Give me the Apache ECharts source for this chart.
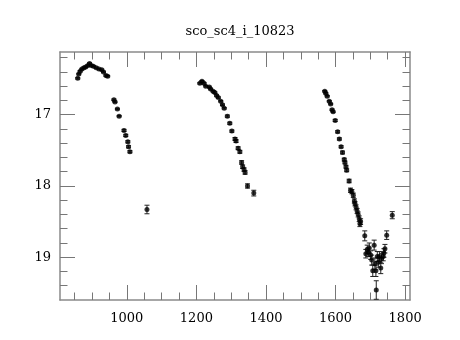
<!DOCTYPE html>
<html>
<head>
<meta charset="utf-8">
<script src="https://cdn.jsdelivr.net/npm/echarts@6/dist/echarts.min.js"></script>
<style>
html,body{margin:0;padding:0;background:#fff;}
#chart{width:460px;height:340px;}
</style>
</head>
<body>
<div id="chart"></div>
<script>
var titleText = "sco_sc4_i_10823";
var mjd = [859,862,866,871,877,882,888,893,898,904,912,920,928,933,940,945,
  963,966,973,978,992,997,1003,1005,1009,
  1058,
  1210,1216,1222,1227,1237,1241,1248,1253,1258,1263,1270,1275,1280,1289,1296,1302,1311,1314,1320,1325,1330,1333,1337,1340,1347,1365,
  1569,1572,1576,1582,1586,1590,1593,1599,1606,1611,1616,1620,1625,1627,1630,1632,1639,1643,1647,1651,1654,1656,1659,1662,1665,1668,1672,1670,
  1684,1687,1691,1694,1697,1701,1704,1707,1711,1713,1716,1717,1720,1723,1726,1730,1732,1737,1739,1742,1747,1763];
var mag = [16.49,16.43,16.39,16.36,16.34,16.33,16.31,16.28,16.31,16.32,16.34,16.36,16.37,16.40,16.45,16.46,
  16.79,16.82,16.92,17.02,17.22,17.29,17.38,17.45,17.52,
  18.33,
  16.56,16.53,16.56,16.60,16.61,16.64,16.67,16.69,16.73,16.76,16.81,16.86,16.91,17.02,17.12,17.23,17.34,17.37,17.47,17.52,17.67,17.73,17.77,17.81,18.00,18.10,
  16.67,16.70,16.74,16.81,16.85,16.93,16.96,17.08,17.24,17.34,17.45,17.53,17.63,17.67,17.73,17.78,17.93,18.06,18.08,18.13,18.21,18.25,18.30,18.35,18.40,18.46,18.50,18.53,
  18.70,18.95,18.89,18.93,18.87,18.97,19.04,19.19,18.83,19.09,19.19,19.46,18.99,19.07,18.99,19.15,19.02,18.99,18.94,18.88,18.69,18.41];
var err = [0.01,0.01,0.01,0.01,0.01,0.01,0.01,0.01,0.01,0.01,0.01,0.01,0.01,0.01,0.01,0.01,
  0.01,0.01,0.01,0.01,0.015,0.015,0.015,0.015,0.015,
  0.06,
  0.01,0.01,0.01,0.01,0.01,0.01,0.01,0.01,0.01,0.01,0.01,0.01,0.01,0.015,0.015,0.015,0.02,0.02,0.02,0.02,0.025,0.025,0.025,0.025,0.03,0.04,
  0.01,0.01,0.01,0.01,0.01,0.01,0.01,0.015,0.015,0.015,0.015,0.02,0.02,0.02,0.02,0.02,0.025,0.03,0.03,0.03,0.03,0.03,0.035,0.035,0.035,0.04,0.04,0.04,
  0.07,0.06,0.06,0.06,0.07,0.06,0.07,0.08,0.07,0.08,0.08,0.13,0.07,0.07,0.07,0.08,0.07,0.06,0.06,0.06,0.06,0.05];

var xMajor = [1000,1200,1400,1600,1800];
var xMinor = [850,900,950,1050,1100,1150,1250,1300,1350,1450,1500,1550,1650,1700,1750];
var yMajor = [17,18,19];
var yMinor = [16.2,16.4,16.6,16.8,17.2,17.4,17.6,17.8,18.2,18.4,18.6,18.8,19.2,19.4];

var data = mjd.map(function(x,i){return [x, mag[i], err[i]];});

var FONT = "DejaVu Serif";
var FRAME = "#8a8a8a";
var TICK = "#777777";
function fmt(v){ return String(v); }

function xAx(pos, vals, len, labels, line){
  return {
    type:'value', position:pos, min:808, max:1814,
    axisLine:{show:line, onZero:false, lineStyle:{color:FRAME, width:1.5}},
    axisTick:{show:true, inside:true, length:len, customValues:vals, lineStyle:{color:TICK, width:1}},
    axisLabel:{show:labels, customValues:vals, formatter:fmt, margin:12, color:'#000', fontFamily:FONT, fontSize:13},
    splitLine:{show:false}
  };
}
function yAx(pos, vals, len, labels, line){
  return {
    type:'value', position:pos, min:16.12, max:19.6, inverse:true,
    axisLine:{show:line, onZero:false, lineStyle:{color:FRAME, width:1.5}},
    axisTick:{show:true, inside:true, length:len, customValues:vals, lineStyle:{color:TICK, width:1}},
    axisLabel:{show:labels, customValues:vals, formatter:fmt, margin:9, color:'#000', fontFamily:FONT, fontSize:13},
    splitLine:{show:false}
  };
}

var chart = echarts.init(document.getElementById('chart'), null, {renderer:'canvas'});
chart.setOption({
  animation:false,
  backgroundColor:'#fff',
  title:{text:titleText, left:235, top:20, textAlign:'center',
    textStyle:{fontFamily:FONT, fontSize:13, fontWeight:'normal', color:'#000'}},
  grid:{left:60, top:52, width:350, height:248},
  xAxis:[xAx('bottom', xMajor, 15, true, true), xAx('bottom', xMinor, 7.5, false, false),
         xAx('top', xMajor, 15, false, true), xAx('top', xMinor, 7.5, false, false)],
  yAxis:[yAx('left', yMajor, 15, true, true), yAx('left', yMinor, 7.5, false, false),
         yAx('right', yMajor, 15, false, true), yAx('right', yMinor, 7.5, false, false)],
  series:[
    {
      type:'custom', xAxisIndex:0, yAxisIndex:0, data:data,
      encode:{x:0, y:1},
      renderItem:function(params, api){
        var x = api.value(0), y = api.value(1), e = api.value(2);
        var p1 = api.coord([x, y - e]);
        var p2 = api.coord([x, y + e]);
        var w = 2.5;
        var st = {stroke:'#222', lineWidth:1};
        return {type:'group', children:[
          {type:'line', shape:{x1:p1[0], y1:p1[1], x2:p2[0], y2:p2[1]}, style:st},
          {type:'line', shape:{x1:p1[0]-w, y1:p1[1], x2:p1[0]+w, y2:p1[1]}, style:st},
          {type:'line', shape:{x1:p2[0]-w, y1:p2[1], x2:p2[0]+w, y2:p2[1]}, style:st}
        ]};
      },
      z:2
    },
    {
      type:'scatter', xAxisIndex:0, yAxisIndex:0, data:data,
      encode:{x:0, y:1},
      symbol:'circle', symbolSize:5,
      itemStyle:{color:'#000'},
      z:3
    }
  ]
});
</script>
</body>
</html>
